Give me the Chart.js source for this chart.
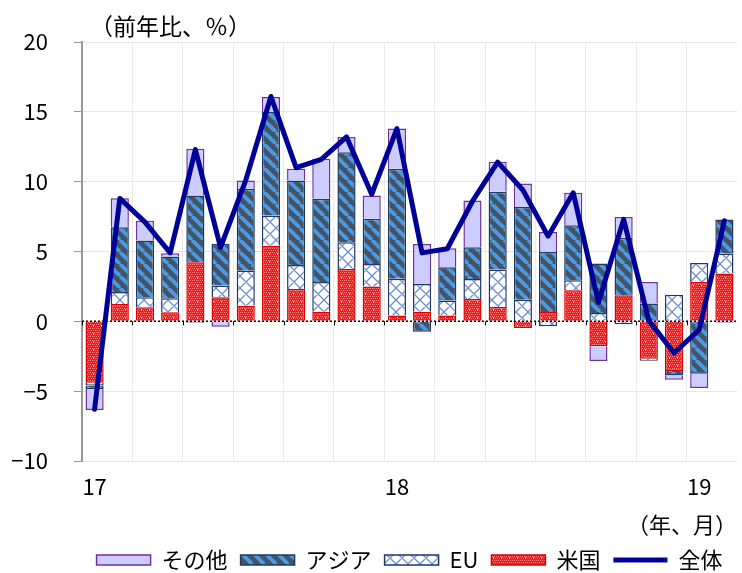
<!DOCTYPE html>
<html>
<head>
<meta charset="utf-8">
<script src="https://cdn.jsdelivr.net/npm/chart.js@4.4.1/dist/chart.umd.min.js"></script>
<style>
  html, body { margin: 0; padding: 0; background: #fff; }
</style>
</head>
<body>
<canvas id="chart" width="742" height="573"></canvas>
<script>
// months Jan 2017 - Feb 2019, only January gets a year label
const months = ['17', '', '', '', '', '', '', '', '', '', '', '',
                '18', '', '', '', '', '', '', '', '', '', '', '',
                '19', ''];

// contributions to yoy growth (%)
const usVals    = [-4.4, 1.24, 1.0, 0.65, 4.23, 1.72, 1.12, 5.42, 2.32, 0.69, 3.75, 2.49,
                   0.41, 0.69, 0.41, 1.6, 1.03, -0.48, 0.67, 2.22, -1.79, 1.86, -2.68, -3.56,
                   2.82, 3.42];
const euVals    = [-0.2, 0.86, 0.72, 1.0, -0.1, 0.84, 2.51, 2.15, 1.72, 2.13, 1.91, 1.62,
                   2.63, 1.98, 1.08, 1.43, 2.68, 1.55, -0.36, 0.72, 0.6, -0.2, -0.15, 1.91,
                   1.36, 1.43];
const asiaVals  = [-0.25, 4.64, 4.06, 2.99, 4.78, 2.99, 5.85, 7.41, 6.05, 5.95, 6.45, 3.23,
                   7.89, -0.74, 2.39, 2.27, 5.57, 6.64, 4.3, 3.94, 3.54, 4.13, 1.27, -0.31,
                   -3.75, 2.44];
const otherVals = [-1.5, 2.08, 1.43, 0.24, 3.35, -0.38, 0.6, 1.08, 0.84, 2.87, 1.08, 1.67,
                   2.87, 2.87, 1.36, 3.35, 2.15, 1.67, 1.43, 2.32, -1.05, 1.48, 1.55, -0.31,
                   -1.03, -0.1];
const totalVals = [-6.3, 8.8, 7.1, 4.9, 12.3, 5.3, 10.1, 16.1, 11.0, 11.6, 13.2, 9.1,
                   13.8, 4.9, 5.2, 8.6, 11.4, 9.4, 6.1, 9.2, 1.35, 7.3, 0.05, -2.27,
                   -0.6, 7.2];

const font = "'Noto Sans CJK JP', 'Noto Sans', sans-serif";
Chart.defaults.font.family = font;
Chart.defaults.color = '#000';

// small tile patterns like the excel fills
function makePattern(size, bg, draw) {
  const c = document.createElement('canvas');
  c.width = size;
  c.height = size;
  const g = c.getContext('2d');
  g.fillStyle = bg;
  g.fillRect(0, 0, size, size);
  draw(g, size);
  return g.createPattern(c, 'repeat');
}

const usFill = makePattern(8, '#ef1d1d', (g, s) => {
  g.fillStyle = '#ff8080';
  for (let y = 0; y < s; y += 2) {
    for (let x = (y % 4 === 0 ? 0 : 1); x < s; x += 2) g.fillRect(x, y, 1, 1);
  }
  g.fillStyle = '#ffffff';
  g.fillRect(5, 5, 1, 1);
});

const euFill = makePattern(12, '#ffffff', (g, s) => {
  g.strokeStyle = '#6d8dd6';
  g.lineWidth = 1.3;
  g.beginPath();
  for (const k of [-s, 0, s]) {
    g.moveTo(k, 0); g.lineTo(k + s, s);
    g.moveTo(k + s, 0); g.lineTo(k, s);
  }
  g.stroke();
});

const asiaFill = makePattern(12, '#435468', (g, s) => {
  g.strokeStyle = '#5099dc';
  g.lineWidth = 3.8;
  g.beginPath();
  for (const k of [-s, 0, s]) {
    g.moveTo(k, 0); g.lineTo(k + s, s);
  }
  g.stroke();
});

// dotted zero line plus the small ticks on it, drawn just before the total line
const zeroLine = {
  id: 'zeroLine',
  beforeDatasetDraw(chart, args) {
    if (args.meta.type !== 'line') return;
    const { ctx, chartArea, scales } = chart;
    const y0 = scales.y.getPixelForValue(0);
    const half = (scales.x.getPixelForValue(1) - scales.x.getPixelForValue(0)) / 2;
    ctx.save();
    ctx.strokeStyle = '#000';
    ctx.lineWidth = 1.5;
    ctx.setLineDash([2, 2]);
    ctx.beginPath();
    ctx.moveTo(chartArea.left, y0);
    ctx.lineTo(chartArea.right, y0);
    ctx.stroke();
    ctx.setLineDash([]);
    ctx.lineWidth = 1;
    ctx.beginPath();
    for (let i = 0; i < months.length; i += 2) {
      const x = Math.round(scales.x.getPixelForValue(i) - half) + 0.5;
      ctx.moveTo(x, y0);
      ctx.lineTo(x, y0 + 4);
    }
    ctx.stroke();
    ctx.restore();
  }
};

// unit caption at top left
const captions = {
  id: 'captions',
  afterDraw(chart) {
    const { ctx, chartArea } = chart;
    ctx.save();
    ctx.font = '23px ' + font;
    ctx.fillStyle = '#000';
    ctx.textBaseline = 'middle';
    ctx.textAlign = 'left';
    ctx.fillText('（前年比、％）', chartArea.left + 8, 26);
    ctx.restore();
  }
};

const barBase = {
  type: 'bar',
  borderWidth: 1.5,
  pointStyle: 'rect',
  order: 1,
  barPercentage: 0.72,
  categoryPercentage: 1
};

const legendRank = [3, 2, 1, 0, 4];

new Chart(document.getElementById('chart').getContext('2d'), {
  data: {
    labels: months,
    datasets: [
      Object.assign({}, barBase, { label: '米国', data: usVals, backgroundColor: usFill, borderColor: '#e00000' }),
      Object.assign({}, barBase, { label: 'EU', data: euVals, backgroundColor: euFill, borderColor: '#1f3864' }),
      Object.assign({}, barBase, { label: 'アジア', data: asiaVals, backgroundColor: asiaFill, borderColor: '#1f3864' }),
      Object.assign({}, barBase, { label: 'その他', data: otherVals, backgroundColor: '#ccccff', borderColor: '#7030a0' }),
      {
        type: 'line',
        label: '全体',
        data: totalVals,
        stack: 'total',
        order: 0,
        borderColor: '#000099',
        backgroundColor: '#000099',
        borderWidth: 5,
        borderCapStyle: 'round',
        borderJoinStyle: 'round',
        pointRadius: 0,
        pointStyle: 'line',
        tension: 0
      }
    ]
  },
  options: {
    responsive: false,
    animation: false,
    layout: { padding: { top: 42, right: 5, left: 0, bottom: -8 } },
    plugins: {
      tooltip: { enabled: false },
      legend: {
        position: 'bottom',
        fullSize: false,
        labels: {
          usePointStyle: true,
          pointStyleWidth: 54,
          boxHeight: 10,
          padding: 13,
          font: { size: 22 },
          color: '#000',
          sort: (a, b) => legendRank[a.datasetIndex] - legendRank[b.datasetIndex]
        }
      }
    },
    scales: {
      x: {
        stacked: true,
        offset: true,
        grid: {
          offset: true,
          drawTicks: false,
          color: (c) => (c.index % 2 === 0 ? '#ebebeb' : 'rgba(0,0,0,0)')
        },
        border: { display: false },
        ticks: {
          autoSkip: false,
          maxRotation: 0,
          padding: 15,
          font: { size: 22, lineHeight: 1 },
          color: '#000'
        },
        title: {
          display: true,
          text: '（年、月）',
          align: 'end',
          font: { size: 22, lineHeight: 1 },
          color: '#000',
          padding: { top: 1, bottom: 0 }
        }
      },
      y: {
        stacked: true,
        min: -10,
        max: 20,
        afterFit: (scale) => { scale.width = 82; },
        grid: {
          color: '#e6e6e6',
          tickColor: '#999',
          tickLength: 8
        },
        border: { color: '#999', width: 2 },
        ticks: {
          stepSize: 5,
          padding: 26,
          font: { size: 22 },
          color: '#000',
          callback: (v) => String(v).replace('-', '\u2212')
        }
      }
    }
  },
  plugins: [zeroLine, captions]
});
</script>
</body>
</html>
